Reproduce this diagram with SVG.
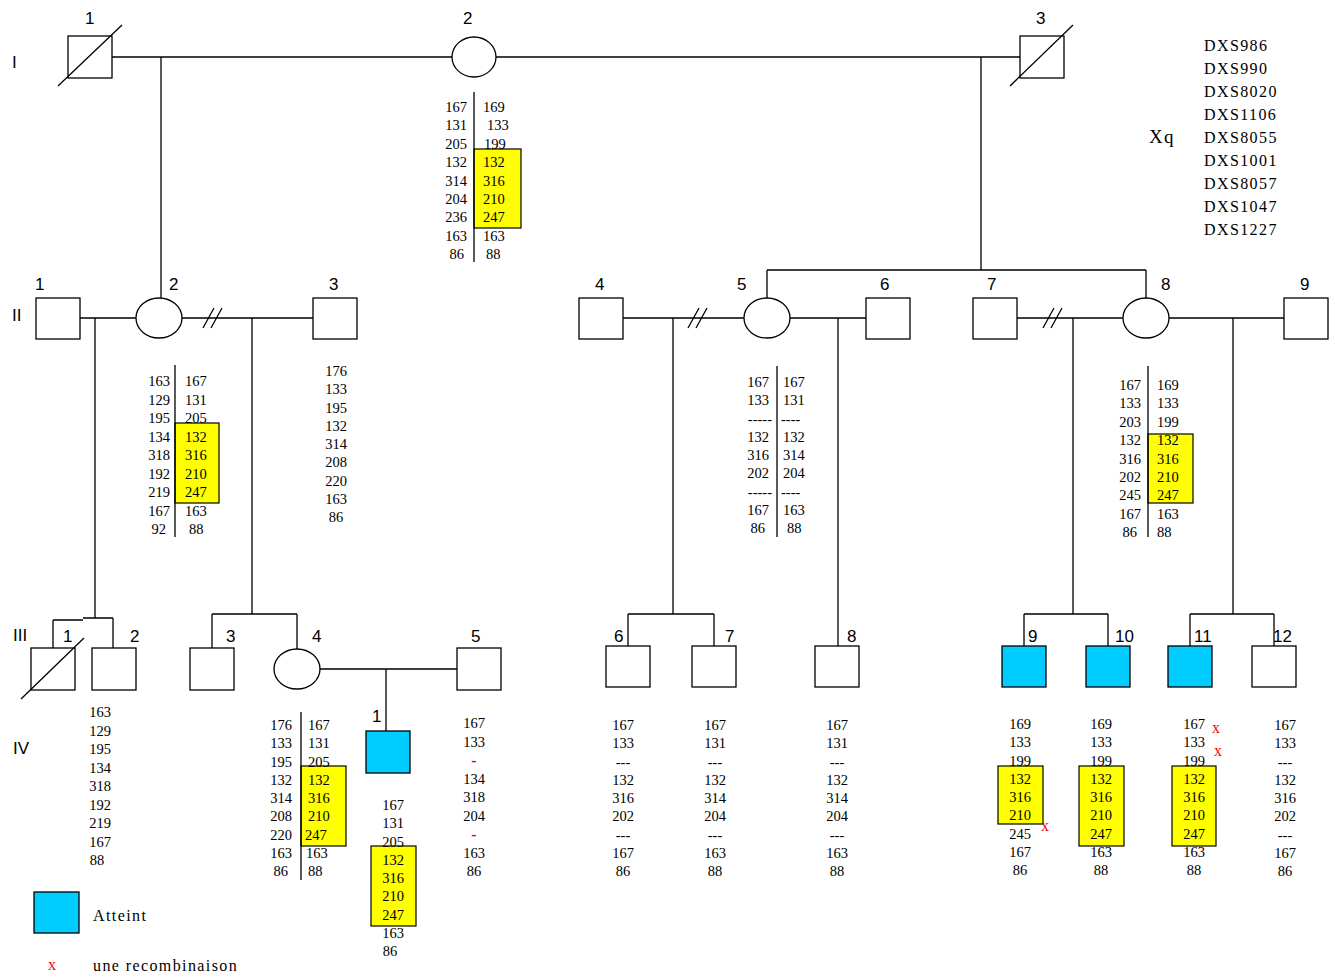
<svg xmlns="http://www.w3.org/2000/svg" width="1335" height="978" viewBox="0 0 1335 978">
<style>
.n{font-family:"Liberation Serif",serif;font-size:14.5px;fill:#000}
.l{font-family:"Liberation Sans",sans-serif;font-size:17px;fill:#000}
.m{font-family:"Liberation Serif",serif;font-size:16px;letter-spacing:1.4px;fill:#000}
.r{font-family:"Liberation Serif",serif;font-size:16px;fill:#ff0000}
.s{fill:#fff;stroke:#000;stroke-width:1.3}
.a{fill:#00ccff;stroke:#000;stroke-width:1.3}
.y{fill:#ffff00;stroke:#000;stroke-width:1.2}
.e{stroke:#000;stroke-width:1.3;fill:none}
</style>
<rect width="1335" height="978" fill="#fff"/>
<!-- generation labels -->
<g id="gen-labels">
<text class="l" x="12" y="68">I</text>
<text class="l" x="12" y="321">II</text>
<text class="l" x="13" y="641">III</text>
<text class="l" x="13" y="754">IV</text>
</g>
<!-- connectors -->
<g id="connectors" class="e">
<path d="M112 57H452M496 57H1020"/>
<path d="M161 57V298"/>
<path d="M981 57V270M767 270H1146M767 270V298M1146 270V298"/>
<path d="M80 318H136M182 318H313M623 318H744M790 318H866M1017 318H1123M1169 318H1284"/>
<path d="M203 328L214 308M211 328L222 308"/>
<path d="M688 328L699 308M696 328L707 308"/>
<path d="M1043 328L1054 308M1051 328L1062 308"/>
<path d="M95 318V618M53 620H83M83 618H113M53 620V648M113 618V648"/>
<path d="M252 318V614M212 614H297M212 614V648M297 614V649"/>
<path d="M673 318V614M628 614H714M628 614V647M714 614V647"/>
<path d="M838 318V647"/>
<path d="M1073 318V614M1024 614H1108M1024 614V647M1108 614V647"/>
<path d="M1233 318V614M1190 614H1274M1190 614V647M1274 614V647"/>
<path d="M320 669H457M386 669V731"/>
</g>
<!-- generation I -->
<g id="I-1"><rect class="s" x="68" y="36" width="44" height="42"/><path class="e" d="M58 86L122 25"/><text class="l" x="85" y="24">1</text></g>
<g id="I-2"><ellipse class="s" cx="474" cy="57" rx="22" ry="20"/><text class="l" x="463" y="24">2</text></g>
<g id="I-3"><rect class="s" x="1020" y="36" width="44" height="42"/><path class="e" d="M1010 86L1073 25"/><text class="l" x="1036" y="24">3</text></g>
<!-- I-2 haplotype -->
<g id="I-2-haplotype">
<rect class="y" x="474" y="149" width="47" height="79"/>
<path class="e" d="M474 92V262"/>
<text class="n" text-anchor="end"><tspan x="467" y="112">167</tspan><tspan x="467" dy="18.4">131</tspan><tspan x="467" dy="18.4">205</tspan><tspan x="467" dy="18.4">132</tspan><tspan x="467" dy="18.4">314</tspan><tspan x="467" dy="18.4">204</tspan><tspan x="467" dy="18.4">236</tspan><tspan x="467" dy="18.4">163</tspan><tspan x="464" dy="18.4">86</tspan></text>
<text class="n"><tspan x="483" y="112">169</tspan><tspan x="487" dy="18.4">133</tspan><tspan x="484" dy="18.4">199</tspan><tspan x="483" dy="18.4">132</tspan><tspan x="483" dy="18.4">316</tspan><tspan x="483" dy="18.4">210</tspan><tspan x="483" dy="18.4">247</tspan><tspan x="483" dy="18.4">163</tspan><tspan x="486" dy="18.4">88</tspan></text>
</g>
<!-- marker list -->
<g id="markers">
<text class="m" style="font-size:19px" x="1149" y="143">Xq</text>
<text class="m"><tspan x="1204" y="51">DXS986</tspan><tspan x="1204" dy="23">DXS990</tspan><tspan x="1204" dy="23">DXS8020</tspan><tspan x="1204" dy="23">DXS1106</tspan><tspan x="1204" dy="23">DXS8055</tspan><tspan x="1204" dy="23">DXS1001</tspan><tspan x="1204" dy="23">DXS8057</tspan><tspan x="1204" dy="23">DXS1047</tspan><tspan x="1204" dy="23">DXS1227</tspan></text>
</g>
<!-- generation II -->
<g id="II-1"><rect class="s" x="36" y="298" width="44" height="41"/><text class="l" x="35" y="290">1</text></g>
<g id="II-2"><ellipse class="s" cx="159" cy="318" rx="23" ry="20"/><text class="l" x="169" y="290">2</text></g>
<g id="II-3"><rect class="s" x="313" y="298" width="44" height="41"/><text class="l" x="329" y="290">3</text></g>
<g id="II-4"><rect class="s" x="579" y="298" width="44" height="41"/><text class="l" x="595" y="290">4</text></g>
<g id="II-5"><ellipse class="s" cx="767" cy="318" rx="23" ry="20"/><text class="l" x="737" y="290">5</text></g>
<g id="II-6"><rect class="s" x="866" y="298" width="44" height="41"/><text class="l" x="880" y="290">6</text></g>
<g id="II-7"><rect class="s" x="973" y="298" width="44" height="41"/><text class="l" x="987" y="290">7</text></g>
<g id="II-8"><ellipse class="s" cx="1146" cy="318" rx="23" ry="20"/><text class="l" x="1161" y="290">8</text></g>
<g id="II-9"><rect class="s" x="1284" y="298" width="44" height="41"/><text class="l" x="1300" y="290">9</text></g>
<!-- II-2 haplotype -->
<g id="II-2-haplotype">
<rect class="y" x="175" y="423" width="44" height="80"/>
<path class="e" d="M175 365V537"/>
<text class="n" text-anchor="end"><tspan x="170" y="386">163</tspan><tspan x="170" dy="18.5">129</tspan><tspan x="170" dy="18.5">195</tspan><tspan x="170" dy="18.5">134</tspan><tspan x="170" dy="18.5">318</tspan><tspan x="170" dy="18.5">192</tspan><tspan x="170" dy="18.5">219</tspan><tspan x="170" dy="18.5">167</tspan><tspan x="166" dy="18.5">92</tspan></text>
<text class="n"><tspan x="185" y="386">167</tspan><tspan x="185" dy="18.5">131</tspan><tspan x="185" dy="18.5">205</tspan><tspan x="185" dy="18.5">132</tspan><tspan x="185" dy="18.5">316</tspan><tspan x="185" dy="18.5">210</tspan><tspan x="185" dy="18.5">247</tspan><tspan x="185" dy="18.5">163</tspan><tspan x="189" dy="18.5">88</tspan></text>
</g>
<g id="II-3-haplotype">
<text class="n" text-anchor="middle"><tspan x="336" y="376">176</tspan><tspan x="336" dy="18.25">133</tspan><tspan x="336" dy="18.25">195</tspan><tspan x="336" dy="18.25">132</tspan><tspan x="336" dy="18.25">314</tspan><tspan x="336" dy="18.25">208</tspan><tspan x="336" dy="18.25">220</tspan><tspan x="336" dy="18.25">163</tspan><tspan x="336" dy="18.25">86</tspan></text>
</g>
<g id="II-5-haplotype">
<path class="e" d="M777 366V537"/>
<text class="n" text-anchor="end"><tspan x="769" y="387">167</tspan><tspan x="769" dy="18.25">133</tspan><tspan x="772" dy="18.25">-----</tspan><tspan x="769" dy="18.25">132</tspan><tspan x="769" dy="18.25">316</tspan><tspan x="769" dy="18.25">202</tspan><tspan x="772" dy="18.25">-----</tspan><tspan x="769" dy="18.25">167</tspan><tspan x="765" dy="18.25">86</tspan></text>
<text class="n"><tspan x="783" y="387">167</tspan><tspan x="783" dy="18.25">131</tspan><tspan x="781" dy="18.25">----</tspan><tspan x="783" dy="18.25">132</tspan><tspan x="783" dy="18.25">314</tspan><tspan x="783" dy="18.25">204</tspan><tspan x="781" dy="18.25">----</tspan><tspan x="783" dy="18.25">163</tspan><tspan x="787" dy="18.25">88</tspan></text>
</g>
<g id="II-8-haplotype">
<rect class="y" x="1148" y="434" width="45" height="69"/>
<path class="e" d="M1148 366V537"/>
<text class="n" text-anchor="end"><tspan x="1141" y="390">167</tspan><tspan x="1141" dy="18.4">133</tspan><tspan x="1141" dy="18.4">203</tspan><tspan x="1141" dy="18.4">132</tspan><tspan x="1141" dy="18.4">316</tspan><tspan x="1141" dy="18.4">202</tspan><tspan x="1141" dy="18.4">245</tspan><tspan x="1141" dy="18.4">167</tspan><tspan x="1137" dy="18.4">86</tspan></text>
<text class="n"><tspan x="1157" y="390">169</tspan><tspan x="1157" dy="18.4">133</tspan><tspan x="1157" dy="18.4">199</tspan><tspan x="1157" dy="18.4">132</tspan><tspan x="1157" dy="18.4">316</tspan><tspan x="1157" dy="18.4">210</tspan><tspan x="1157" dy="18.4">247</tspan><tspan x="1157" dy="18.4">163</tspan><tspan x="1157" dy="18.4">88</tspan></text>
</g>
<!-- generation III -->
<g id="III-1"><rect class="s" x="31" y="648" width="44" height="42"/><path class="e" d="M21 699L84 638"/><text class="l" x="63" y="642">1</text></g>
<g id="III-2"><rect class="s" x="92" y="648" width="44" height="42"/><text class="l" x="130" y="642">2</text></g>
<g id="III-3"><rect class="s" x="190" y="648" width="44" height="42"/><text class="l" x="226" y="642">3</text></g>
<g id="III-4"><ellipse class="s" cx="297" cy="669" rx="23" ry="20"/><text class="l" x="312" y="642">4</text></g>
<g id="III-5"><rect class="s" x="457" y="648" width="44" height="42"/><text class="l" x="471" y="642">5</text></g>
<g id="III-6"><rect class="s" x="606" y="646" width="44" height="41"/><text class="l" x="614" y="642">6</text></g>
<g id="III-7"><rect class="s" x="692" y="646" width="44" height="41"/><text class="l" x="725" y="642">7</text></g>
<g id="III-8"><rect class="s" x="815" y="646" width="44" height="41"/><text class="l" x="847" y="642">8</text></g>
<g id="III-9"><rect class="a" x="1002" y="646" width="44" height="41"/><text class="l" x="1028" y="642">9</text></g>
<g id="III-10"><rect class="a" x="1086" y="646" width="44" height="41"/><text class="l" x="1115" y="642">10</text></g>
<g id="III-11"><rect class="a" x="1168" y="646" width="44" height="41"/><text class="l" x="1194" y="642">11</text></g>
<g id="III-12"><rect class="s" x="1252" y="646" width="44" height="41"/><text class="l" x="1273" y="642">12</text></g>
<!-- generation IV -->
<g id="IV-1"><rect class="a" x="366" y="731" width="44" height="42"/><text class="l" x="372" y="722">1</text></g>
<!-- generation III/IV haplotypes -->
<g id="III-2-haplotype">
<text class="n" text-anchor="middle"><tspan x="100" y="717">163</tspan><tspan x="100" dy="18.5">129</tspan><tspan x="100" dy="18.5">195</tspan><tspan x="100" dy="18.5">134</tspan><tspan x="100" dy="18.5">318</tspan><tspan x="100" dy="18.5">192</tspan><tspan x="100" dy="18.5">219</tspan><tspan x="100" dy="18.5">167</tspan><tspan x="97" dy="18.5">88</tspan></text>
</g>
<g id="III-4-haplotype">
<rect class="y" x="301" y="766" width="45" height="80"/>
<path class="e" d="M301 712V880"/>
<text class="n" text-anchor="end"><tspan x="292" y="730">176</tspan><tspan x="292" dy="18.25">133</tspan><tspan x="292" dy="18.25">195</tspan><tspan x="292" dy="18.25">132</tspan><tspan x="292" dy="18.25">314</tspan><tspan x="292" dy="18.25">208</tspan><tspan x="292" dy="18.25">220</tspan><tspan x="292" dy="18.25">163</tspan><tspan x="288" dy="18.25">86</tspan></text>
<text class="n"><tspan x="308" y="730">167</tspan><tspan x="308" dy="18.25">131</tspan><tspan x="308" dy="18.25">205</tspan><tspan x="308" dy="18.25">132</tspan><tspan x="308" dy="18.25">316</tspan><tspan x="308" dy="18.25">210</tspan><tspan x="305" dy="18.25">247</tspan><tspan x="306" dy="18.25">163</tspan><tspan x="308" dy="18.25">88</tspan></text>
</g>
<g id="IV-1-haplotype">
<rect class="y" x="371" y="846" width="45" height="80"/>
<text class="n" text-anchor="middle"><tspan x="393" y="810">167</tspan><tspan x="393" dy="18.25">131</tspan><tspan x="393" dy="18.25">205</tspan><tspan x="393" dy="18.25">132</tspan><tspan x="393" dy="18.25">316</tspan><tspan x="393" dy="18.25">210</tspan><tspan x="393" dy="18.25">247</tspan><tspan x="393" dy="18.25">163</tspan><tspan x="390" dy="18.25">86</tspan></text>
</g>
<g id="III-5-haplotype">
<text class="n" text-anchor="middle"><tspan x="474" y="728">167</tspan><tspan x="474" dy="18.5">133</tspan><tspan x="474" dy="37">134</tspan><tspan x="474" dy="18.5">318</tspan><tspan x="474" dy="18.5">204</tspan><tspan x="474" dy="37">163</tspan><tspan x="474" dy="18.5">86</tspan></text>
<text class="r" text-anchor="middle" style="font-weight:bold"><tspan x="474" y="766">-</tspan><tspan x="474" y="840">-</tspan></text>
</g>
<g id="III-6-haplotype">
<text class="n" text-anchor="middle"><tspan x="623" y="730">167</tspan><tspan x="623" dy="18.25">133</tspan><tspan x="623" dy="18.25">---</tspan><tspan x="623" dy="18.25">132</tspan><tspan x="623" dy="18.25">316</tspan><tspan x="623" dy="18.25">202</tspan><tspan x="623" dy="18.25">---</tspan><tspan x="623" dy="18.25">167</tspan><tspan x="623" dy="18.25">86</tspan></text>
</g>
<g id="III-7-haplotype">
<text class="n" text-anchor="middle"><tspan x="715" y="730">167</tspan><tspan x="715" dy="18.25">131</tspan><tspan x="715" dy="18.25">---</tspan><tspan x="715" dy="18.25">132</tspan><tspan x="715" dy="18.25">314</tspan><tspan x="715" dy="18.25">204</tspan><tspan x="715" dy="18.25">---</tspan><tspan x="715" dy="18.25">163</tspan><tspan x="715" dy="18.25">88</tspan></text>
</g>
<g id="III-8-haplotype">
<text class="n" text-anchor="middle"><tspan x="837" y="730">167</tspan><tspan x="837" dy="18.25">131</tspan><tspan x="837" dy="18.25">---</tspan><tspan x="837" dy="18.25">132</tspan><tspan x="837" dy="18.25">314</tspan><tspan x="837" dy="18.25">204</tspan><tspan x="837" dy="18.25">---</tspan><tspan x="837" dy="18.25">163</tspan><tspan x="837" dy="18.25">88</tspan></text>
</g>
<g id="III-9-haplotype">
<rect class="y" x="998" y="766" width="45" height="58"/>
<text class="n" text-anchor="middle"><tspan x="1020" y="729">169</tspan><tspan x="1020" dy="18.25">133</tspan><tspan x="1020" dy="18.25">199</tspan><tspan x="1020" dy="18.25">132</tspan><tspan x="1020" dy="18.25">316</tspan><tspan x="1020" dy="18.25">210</tspan><tspan x="1020" dy="18.25">245</tspan><tspan x="1020" dy="18.25">167</tspan><tspan x="1020" dy="18.25">86</tspan></text>
<text class="r" x="1041" y="831">x</text>
</g>
<g id="III-10-haplotype">
<rect class="y" x="1079" y="766" width="45" height="80"/>
<text class="n" text-anchor="middle"><tspan x="1101" y="729">169</tspan><tspan x="1101" dy="18.25">133</tspan><tspan x="1101" dy="18.25">199</tspan><tspan x="1101" dy="18.25">132</tspan><tspan x="1101" dy="18.25">316</tspan><tspan x="1101" dy="18.25">210</tspan><tspan x="1101" dy="18.25">247</tspan><tspan x="1101" dy="18.25">163</tspan><tspan x="1101" dy="18.25">88</tspan></text>
</g>
<g id="III-11-haplotype">
<rect class="y" x="1172" y="766" width="44" height="80"/>
<text class="n" text-anchor="middle"><tspan x="1194" y="729">167</tspan><tspan x="1194" dy="18.25">133</tspan><tspan x="1194" dy="18.25">199</tspan><tspan x="1194" dy="18.25">132</tspan><tspan x="1194" dy="18.25">316</tspan><tspan x="1194" dy="18.25">210</tspan><tspan x="1194" dy="18.25">247</tspan><tspan x="1194" dy="18.25">163</tspan><tspan x="1194" dy="18.25">88</tspan></text>
<text class="r"><tspan x="1212" y="733">x</tspan><tspan x="1214" y="756">x</tspan></text>
</g>
<g id="III-12-haplotype">
<text class="n" text-anchor="middle"><tspan x="1285" y="730">167</tspan><tspan x="1285" dy="18.25">133</tspan><tspan x="1285" dy="18.25">---</tspan><tspan x="1285" dy="18.25">132</tspan><tspan x="1285" dy="18.25">316</tspan><tspan x="1285" dy="18.25">202</tspan><tspan x="1285" dy="18.25">---</tspan><tspan x="1285" dy="18.25">167</tspan><tspan x="1285" dy="18.25">86</tspan></text>
</g>
<!-- legend -->
<g id="legend">
<rect class="a" x="34" y="892" width="45" height="41"/>
<text class="m" x="93" y="921">Atteint</text>
<text class="r" x="48" y="970">x</text>
<text class="m" x="93" y="971">une recombinaison</text>
</g>
</svg>
